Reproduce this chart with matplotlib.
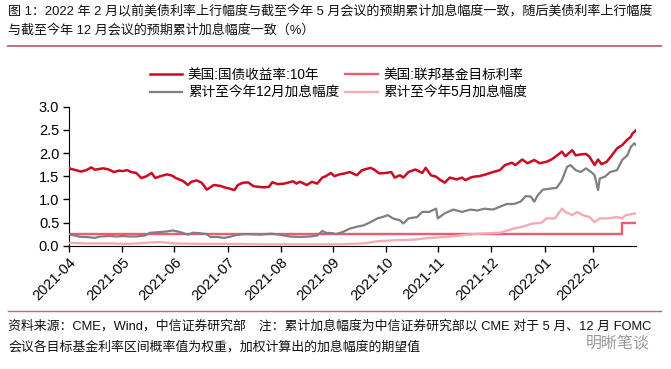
import pandas as pd
import matplotlib.pyplot as plt
import matplotlib.dates as mdates
from matplotlib.lines import Line2D

plt.rcParams['font.family'] = ['Liberation Sans', 'Noto Sans CJK SC', 'DejaVu Sans']

# 美国:国债收益率:10年
ust10_dates = [
    "2021-04-30", "2021-05-02", "2021-05-07", "2021-05-10", "2021-05-13", "2021-05-15",
    "2021-05-20", "2021-05-23", "2021-05-26", "2021-05-29", "2021-05-31", "2021-06-03",
    "2021-06-05", "2021-06-08", "2021-06-11", "2021-06-14", "2021-06-17", "2021-06-19",
    "2021-06-22", "2021-06-26", "2021-06-29", "2021-07-01", "2021-07-05", "2021-07-08",
    "2021-07-10", "2021-07-13", "2021-07-16", "2021-07-19", "2021-07-23", "2021-07-27",
    "2021-07-29", "2021-08-01", "2021-08-04", "2021-08-06", "2021-08-09", "2021-08-12",
    "2021-08-15", "2021-08-18", "2021-08-21", "2021-08-24", "2021-08-26", "2021-08-29",
    "2021-09-02", "2021-09-05", "2021-09-07", "2021-09-09", "2021-09-11", "2021-09-15",
    "2021-09-18", "2021-09-21", "2021-09-24", "2021-09-26", "2021-09-29", "2021-10-01",
    "2021-10-04", "2021-10-07", "2021-10-10", "2021-10-14", "2021-10-17", "2021-10-22",
    "2021-10-24", "2021-10-27", "2021-10-31", "2021-11-03", "2021-11-05", "2021-11-08",
    "2021-11-10", "2021-11-13", "2021-11-17", "2021-11-21", "2021-11-23", "2021-11-26",
    "2021-11-29", "2021-12-01", "2021-12-04", "2021-12-07", "2021-12-11", "2021-12-14",
    "2021-12-16", "2021-12-19", "2021-12-21", "2021-12-24", "2021-12-28", "2022-01-01",
    "2022-01-05", "2022-01-08", "2022-01-12", "2022-01-14", "2022-01-18", "2022-01-21",
    "2022-01-25", "2022-01-28", "2022-02-01", "2022-02-04", "2022-02-08", "2022-02-10",
    "2022-02-12", "2022-02-16", "2022-02-18", "2022-02-21", "2022-02-24", "2022-02-26",
    "2022-03-01", "2022-03-03", "2022-03-05", "2022-03-08", "2022-03-11", "2022-03-14",
    "2022-03-17", "2022-03-18", "2022-03-20", "2022-03-22", "2022-03-23", "2022-03-25",
]
ust10 = [
    1.67, 1.65, 1.60, 1.63, 1.69, 1.64,
    1.67, 1.645, 1.59, 1.62, 1.61, 1.63,
    1.59, 1.57, 1.46, 1.50, 1.57, 1.46,
    1.50, 1.54, 1.51, 1.46, 1.40, 1.31,
    1.38, 1.41, 1.36, 1.21, 1.31, 1.29,
    1.26, 1.235, 1.20, 1.31, 1.36, 1.365,
    1.285, 1.27, 1.26, 1.27, 1.37, 1.33,
    1.34, 1.37, 1.39, 1.34, 1.38, 1.31,
    1.38, 1.34, 1.47, 1.50, 1.57, 1.50,
    1.54, 1.56, 1.59, 1.52, 1.63, 1.68,
    1.645, 1.56, 1.57, 1.59, 1.47, 1.52,
    1.47, 1.59, 1.645, 1.57, 1.68, 1.52,
    1.49, 1.43, 1.36, 1.47, 1.43, 1.47,
    1.415, 1.47, 1.49, 1.50, 1.54, 1.59,
    1.63, 1.74, 1.79, 1.74, 1.86, 1.78,
    1.85, 1.78, 1.81, 1.86, 1.97, 2.03,
    1.93, 2.06, 1.95, 1.97, 1.98, 1.92,
    1.74, 1.86, 1.76, 1.81, 1.95, 2.10,
    2.17, 2.21, 2.29, 2.35, 2.42, 2.49,
]

# 累计至今年12月加息幅度
hike_dec_dates = [
    "2021-04-30", "2021-05-02", "2021-05-07", "2021-05-10", "2021-05-15", "2021-05-18",
    "2021-05-24", "2021-05-28", "2021-05-31", "2021-06-04", "2021-06-08", "2021-06-13",
    "2021-06-16", "2021-06-20", "2021-06-26", "2021-06-29", "2021-07-03", "2021-07-08",
    "2021-07-11", "2021-07-15", "2021-07-19", "2021-07-21", "2021-07-25", "2021-07-29",
    "2021-08-01", "2021-08-05", "2021-08-09", "2021-08-13", "2021-08-19", "2021-08-25",
    "2021-08-30", "2021-09-05", "2021-09-11", "2021-09-17", "2021-09-21", "2021-09-24",
    "2021-09-26", "2021-09-30", "2021-10-02", "2021-10-06", "2021-10-10", "2021-10-14",
    "2021-10-18", "2021-10-22", "2021-10-26", "2021-10-29", "2021-11-01", "2021-11-04",
    "2021-11-08", "2021-11-10", "2021-11-13", "2021-11-18", "2021-11-21", "2021-11-25",
    "2021-11-29", "2021-11-30", "2021-12-04", "2021-12-09", "2021-12-14", "2021-12-19",
    "2021-12-23", "2021-12-27", "2022-01-01", "2022-01-05", "2022-01-09", "2022-01-13",
    "2022-01-17", "2022-01-20", "2022-01-23", "2022-01-25", "2022-01-27", "2022-01-30",
    "2022-02-03", "2022-02-07", "2022-02-10", "2022-02-13", "2022-02-15", "2022-02-18",
    "2022-02-21", "2022-02-24", "2022-02-27", "2022-03-01", "2022-03-03", "2022-03-04",
    "2022-03-07", "2022-03-10", "2022-03-14", "2022-03-17", "2022-03-20", "2022-03-22",
    "2022-03-24", "2022-03-25",
]
hike_dec = [
    0.25, 0.23, 0.19, 0.19, 0.17, 0.20,
    0.21, 0.20, 0.21, 0.20, 0.20, 0.22,
    0.28, 0.29, 0.31, 0.33, 0.30, 0.24,
    0.28, 0.27, 0.25, 0.19, 0.19, 0.17,
    0.19, 0.23, 0.25, 0.25, 0.24, 0.26,
    0.24, 0.20, 0.19, 0.20, 0.22, 0.32,
    0.28, 0.27, 0.25, 0.30, 0.37, 0.41,
    0.44, 0.51, 0.59, 0.62, 0.66, 0.59,
    0.55, 0.48, 0.59, 0.62, 0.73, 0.73,
    0.80, 0.59, 0.70, 0.78, 0.73, 0.78,
    0.76, 0.80, 0.78, 0.84, 0.90, 0.90,
    0.95, 1.07, 1.06, 0.95, 1.09, 1.21,
    1.23, 1.25, 1.41, 1.70, 1.74, 1.63,
    1.59, 1.67, 1.59, 1.52, 1.20, 1.45,
    1.49, 1.59, 1.63, 1.85, 1.95, 2.13,
    2.21, 2.17,
]

# 累计至今年5月加息幅度
hike_may_dates = [
    "2021-04-30", "2021-05-12", "2021-05-24", "2021-06-04", "2021-06-16", "2021-06-22",
    "2021-06-30", "2021-07-15", "2021-08-01", "2021-08-19", "2021-09-05", "2021-09-23",
    "2021-10-04", "2021-10-18", "2021-10-27", "2021-11-06", "2021-11-16", "2021-11-25",
    "2021-12-05", "2021-12-15", "2021-12-24", "2022-01-05", "2022-01-13", "2022-01-18",
    "2022-01-24", "2022-01-29", "2022-02-01", "2022-02-06", "2022-02-10", "2022-02-12",
    "2022-02-16", "2022-02-19", "2022-02-22", "2022-02-26", "2022-03-01", "2022-03-04",
    "2022-03-09", "2022-03-14", "2022-03-17", "2022-03-19", "2022-03-25",
]
hike_may = [
    0.06, 0.05, 0.05, 0.04, 0.07, 0.08,
    0.05, 0.04, 0.04, 0.03, 0.03, 0.03,
    0.03, 0.05, 0.10, 0.12, 0.13, 0.17,
    0.19, 0.23, 0.26, 0.28, 0.37, 0.41,
    0.48, 0.49, 0.59, 0.59, 0.80, 0.73,
    0.66, 0.73, 0.66, 0.62, 0.51, 0.59,
    0.59, 0.62, 0.59, 0.66, 0.70,
]

# 美国:联邦基金目标利率
fed_dates = ["2021-04-30", "2022-03-17", "2022-03-25"]
fed_rate = [0.25, 0.50, 0.50]

tick_dates = pd.date_range("2021-04-30", "2022-02-28", freq="ME")

title = ("图 1：2022 年 2 月以前美债利率上行幅度与截至今年 5 月会议的预期累计加息幅度一致，随后美债利率上行幅度\n"
         "与截至今年 12 月会议的预期累计加息幅度一致（%）")
note_1 = "资料来源：CME，Wind，中信证券研究部　注：累计加息幅度为中信证券研究部以 CME 对于 5 月、12 月 FOMC"
note_2 = "会议各目标基金利率区间概率值为权重，加权计算出的加息幅度的期望值"

fig = plt.figure(figsize=(6.71, 3.69), dpi=100)
ax = fig.add_axes([0.1028, 0.334, 0.845, 0.377])

ax.plot(pd.to_datetime(fed_dates), fed_rate, drawstyle="steps-post",
        color="#EE5A72", lw=1.7, label="美国:联邦基金目标利率", zorder=2)
ax.plot(pd.to_datetime(hike_may_dates), hike_may, color="#F6AAB2", lw=1.7,
        label="累计至今年5月加息幅度", zorder=3)
ax.plot(pd.to_datetime(hike_dec_dates), hike_dec, color="#7F7F7F", lw=1.6,
        label="累计至今年12月加息幅度", zorder=4)
ax.plot(pd.to_datetime(ust10_dates), ust10, color="#CC0A24", lw=1.8,
        label="美国:国债收益率:10年", zorder=5)

ax.set_xlim(pd.Timestamp("2021-04-30"), pd.Timestamp("2022-03-25"))
ax.set_ylim(0, 3.0)
ax.set_yticks([0, 0.5, 1.0, 1.5, 2.0, 2.5, 3.0])
ax.yaxis.set_major_formatter(plt.FormatStrFormatter("%.1f"))
ax.set_xticks(tick_dates)
ax.xaxis.set_major_formatter(mdates.DateFormatter("%Y-%m"))
for lab in ax.get_xticklabels():
    lab.set_rotation(45)
    lab.set_ha("right")
    lab.set_rotation_mode("anchor")
ax.tick_params(axis="both", labelsize=10.5, direction="out", length=4, width=1,
               colors="black", pad=3)
ax.spines["top"].set_visible(False)
ax.spines["right"].set_visible(False)

h, l = ax.get_legend_handles_labels()
order = [3, 2, 0, 1]
fig.legend([h[i] for i in order], [l[i] for i in order], ncol=2, frameon=False,
           fontsize=9.8, loc="upper left", bbox_to_anchor=(0.205, 0.85),
           handlelength=2.4, handletextpad=0.4, columnspacing=0.45, labelspacing=0.3)

fig.text(0.012, 0.985, title, fontsize=9.4, va="top", ha="left", linespacing=1.55,
         color="#111111")
fig.add_artist(Line2D([0.012, 0.985], [0.875, 0.875], color="#C0646C", lw=1.3))
fig.add_artist(Line2D([0.012, 0.985], [0.158, 0.158], color="#C0646C", lw=1.0))
fig.text(0.012, 0.117, note_1, fontsize=9.3, va="center", ha="left", color="#111111")
fig.text(0.012, 0.060, note_2, fontsize=9.3, va="center", ha="left", color="#111111")
fig.text(0.968, 0.068, "明晰笔谈", fontsize=11.5, ha="right", va="center", color="#999999",
         family=["Noto Sans CJK SC"])

fig.savefig("out.png", dpi=100)
